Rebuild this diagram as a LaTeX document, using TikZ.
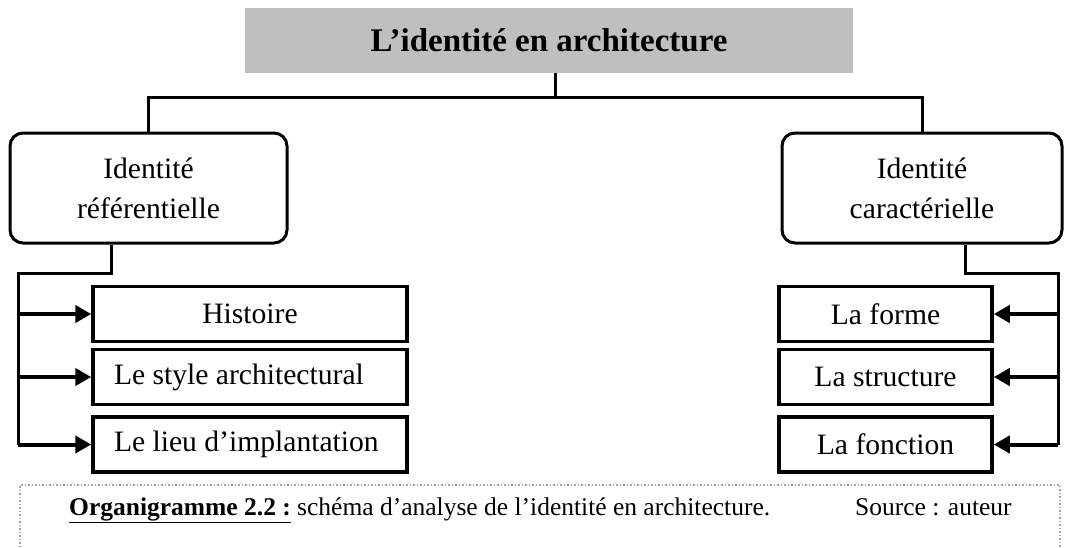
\documentclass[tikz,border=0pt]{standalone}
\usepackage{fontspec}
\setmainfont{Liberation Serif}
\usepackage{tikz}
\usetikzlibrary{arrows.meta}

\definecolor{titlegray}{RGB}{191,191,191}
\definecolor{framegray}{RGB}{160,160,160}

\begin{document}
\begin{tikzpicture}[x=1pt,y=-1pt,
  titlebox/.style={fill=titlegray,minimum width=608pt,minimum height=65pt,inner sep=0pt,
    font=\fontsize{33}{38}\selectfont\bfseries},
  idbox/.style={draw,line width=3pt,rounded corners=13pt,minimum height=110pt,inner sep=0pt,
    align=center,font=\fontsize{29.6}{40}\selectfont},
  itembox/.style={draw,line width=3.5pt,minimum height=55pt,inner sep=0pt,
    font=\fontsize{29.6}{34}\selectfont},
  leftitem/.style={itembox,inner xsep=21pt,text width=272pt,align=flush left},
  link/.style={line width=3pt},
  feed/.style={line width=4pt,-{Triangle[length=16pt,width=17pt]}}]

\useasboundingbox (0,0) rectangle (1083,547);

\node[titlebox] (title) at (549,40.5) {L’identité en architecture};

\node[idbox,minimum width=277pt] (refL) at (148.5,188) {Identité\\référentielle};
\node[idbox,minimum width=280pt] (refC) at (922,188) {Identité\\caractérielle};

\node[itembox,minimum width=314pt] (hist) at (250,314) {Histoire};
\node[leftitem] (style) at (250,377) {Le style architectural};
\node[leftitem] (lieu) at (250,444.5) {Le lieu d’implantation};

\node[itembox,minimum width=213pt] (forme) at (885.5,314) {La forme};
\node[itembox,minimum width=213pt] (struct) at (885.5,377) {La structure};
\node[itembox,minimum width=213pt] (fonct) at (885.5,444.5) {La fonction};

\coordinate (bus) at (555,97);
\draw[link] (title.south -| bus) -- (bus);
\draw[link] (bus) -| (refL.north);
\draw[link] (bus) -| (refC.north);

\coordinate (lj) at (111,273);
\coordinate (lspine) at (18,273);
\draw[link] (refL.south -| lj) -- (lj) -- (lspine) -- (lspine |- lieu.west);
\draw[feed] (lspine |- hist.west) -- (hist.west);
\draw[feed] (lspine |- style.west) -- (style.west);
\draw[feed] (lspine |- lieu.west) -- (lieu.west);

\coordinate (rj) at (965,273);
\coordinate (rspine) at (1058,273);
\draw[link] (refC.south -| rj) -- (rj) -- (rspine) -- (rspine |- fonct.east);
\draw[feed] (rspine |- forme.east) -- (forme.east);
\draw[feed] (rspine |- struct.east) -- (struct.east);
\draw[feed] (rspine |- fonct.east) -- (fonct.east);

\draw[framegray,line width=1.5pt,dotted] (20,547) -- (20,485) -- (1060,485) -- (1060,547);
\node[anchor=base west,inner sep=0pt,font=\fontsize{25.5}{30}\selectfont] (capt) at (69,515)
  {\textbf{\underline{Organigramme 2.2 :}} schéma d’analyse de l’identité en architecture.};
\node[anchor=base west,inner sep=0pt,font=\fontsize{25.5}{30}\selectfont] (src) at (855,515)
  {Source : auteur};
\end{tikzpicture}
\end{document}
